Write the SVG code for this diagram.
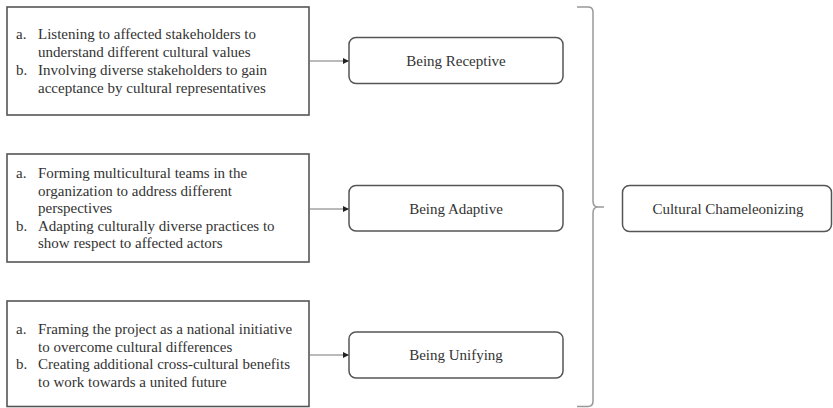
<svg xmlns="http://www.w3.org/2000/svg" width="833" height="408" viewBox="0 0 833 408">
<defs>
<style>
.box{fill:#fff;stroke:#555;stroke-width:1.6}
.rbox{fill:#fff;stroke:#555;stroke-width:1.5}
.t{font-family:"Liberation Serif","Times New Roman",serif;font-size:15px;fill:#333}
.c{text-anchor:middle}
.line{fill:none;stroke:#777;stroke-width:1.2}
.br{fill:none;stroke:#999;stroke-width:1.5}
</style>
<marker id="ah" viewBox="0 0 10 10" refX="10" refY="5" markerWidth="6" markerHeight="6" markerUnits="userSpaceOnUse" orient="auto">
<path d="M0,0 L10,5 L0,10 z" fill="#222"/>
</marker>
</defs>
<rect width="833" height="408" fill="#fff"/>
<g id="list1">
<rect class="box" x="7" y="7" width="302" height="108"/>
<text class="t" x="16" y="39">a.</text>
<text class="t" x="38" y="39">Listening to affected stakeholders to</text>
<text class="t" x="38" y="57">understand different cultural values</text>
<text class="t" x="16" y="75">b.</text>
<text class="t" x="38" y="75">Involving diverse stakeholders to gain</text>
<text class="t" x="38" y="93">acceptance by cultural representatives</text>
</g>
<g id="list2">
<rect class="box" x="7" y="154" width="302" height="108"/>
<text class="t" x="16" y="178">a.</text>
<text class="t" x="38" y="178">Forming multicultural teams in the</text>
<text class="t" x="38" y="195.5">organization to address different</text>
<text class="t" x="38" y="213">perspectives</text>
<text class="t" x="16" y="230.5">b.</text>
<text class="t" x="38" y="230.5">Adapting culturally diverse practices to</text>
<text class="t" x="38" y="248">show respect to affected actors</text>
</g>
<g id="list3">
<rect class="box" x="7" y="301" width="302" height="105.5"/>
<text class="t" x="16" y="334">a.</text>
<text class="t" x="38" y="334">Framing the project as a national initiative</text>
<text class="t" x="38" y="351.5">to overcome cultural differences</text>
<text class="t" x="16" y="369">b.</text>
<text class="t" x="38" y="369">Creating additional cross-cultural benefits</text>
<text class="t" x="38" y="386.5">to work towards a united future</text>
</g>
<g id="receptive">
<rect class="rbox" x="349" y="37.5" width="214" height="46" rx="7"/>
<text class="t c" x="456" y="66">Being Receptive</text>
</g>
<g id="adaptive">
<rect class="rbox" x="349" y="185.5" width="214" height="45.5" rx="7"/>
<text class="t c" x="456" y="213.5">Being Adaptive</text>
</g>
<g id="unifying">
<rect class="rbox" x="349" y="332" width="214" height="46" rx="7"/>
<text class="t c" x="456" y="360">Being Unifying</text>
</g>
<g id="chameleonizing">
<rect class="rbox" x="622.5" y="185.5" width="209" height="46" rx="7"/>
<text class="t c" x="728" y="214">Cultural Chameleonizing</text>
</g>
<g id="connectors">
<line class="line" x1="309" y1="61" x2="349" y2="61" marker-end="url(#ah)"/>
<line class="line" x1="309" y1="209" x2="349" y2="209" marker-end="url(#ah)"/>
<line class="line" x1="309" y1="355" x2="349" y2="355" marker-end="url(#ah)"/>
<path class="br" d="M577,7 H588 Q593,7 593,12 V201 Q593,207 598,207 H604 M598,207 Q593,207 593,213 V401 Q593,406.5 588,406.5 H577"/>
</g>
</svg>
